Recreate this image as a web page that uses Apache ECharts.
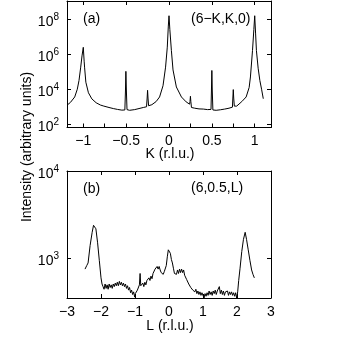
<!DOCTYPE html>
<html>
<head>
<meta charset="utf-8">
<script src="https://cdn.jsdelivr.net/npm/echarts@6/dist/echarts.min.js"></script>
<style>
  html, body { margin: 0; padding: 0; background: #fff; }
  #chart { width: 339px; height: 341px; }
</style>
</head>
<body>
<div id="chart"></div>
<script>
  // panel (a): scan along (6-K,K,0), intensity given as log10
  var kVals = [-1.19, -1.15, -1.1, -1.07, -1.05, -1.03, -1.015, -1.0, -0.99, -0.985, -0.97, -0.94, -0.9, -0.85, -0.8,
    -0.76, -0.752, -0.745, -0.7, -0.65, -0.6, -0.55, -0.515, -0.508, -0.503, -0.497, -0.49, -0.46, -0.4, -0.35, -0.3,
    -0.262, -0.255, -0.25, -0.245, -0.238, -0.2, -0.15, -0.11, -0.07, -0.04, -0.02, -0.008, 0, 0.01, 0.028, 0.047,
    0.086, 0.145, 0.2, 0.24, 0.245, 0.25, 0.255, 0.262, 0.3, 0.35, 0.4, 0.45, 0.49, 0.495, 0.5, 0.505, 0.512, 0.55,
    0.6, 0.65, 0.7, 0.74, 0.745, 0.75, 0.755, 0.762, 0.79, 0.85, 0.9, 0.935, 0.95, 0.974, 0.99, 1.0, 1.01, 1.02,
    1.04, 1.06, 1.08, 1.1];
  var kLogI = [3.09, 3.25, 3.56, 4.0, 4.5, 5.26, 5.9, 6.39, 5.6, 5.26, 4.4, 3.8, 3.45, 3.23, 3.1,
    3.04, 3.15, 3.03, 2.96, 2.9, 2.85, 2.81, 2.82, 3.9, 5.02, 3.9, 2.84, 2.8, 2.84, 2.9, 2.96,
    3.0, 3.5, 3.94, 3.5, 3.06, 3.12, 3.3, 3.56, 4.2, 5.26, 6.4, 7.6, 8.19, 7.4, 6.2, 5.1,
    4.13, 3.56, 3.28, 3.15, 3.3, 3.6, 3.3, 2.96, 2.92, 2.88, 2.87, 2.84, 2.85, 3.9, 5.07, 3.9, 2.82, 2.8,
    2.83, 2.87, 2.92, 2.98, 3.5, 3.98, 3.5, 3.04, 3.04, 3.3, 3.56, 4.1, 4.7, 6.2, 7.4, 8.19, 7.2, 6.2,
    5.2, 4.5, 4.0, 3.46];

  // panel (b): scan along (6,0.5,L), intensity given as log10
  var lVals = [-2.47, -2.42, -2.38, -2.32, -2.26, -2.22, -2.19, -2.15, -2.1, -2.05,
    -2.0, -1.97, -1.94, -1.91, -1.88, -1.85, -1.82, -1.79, -1.76, -1.73, -1.7, -1.67, -1.64, -1.61, -1.58,
    -1.55, -1.52, -1.49, -1.46, -1.43, -1.4, -1.37, -1.34, -1.31, -1.28, -1.25, -1.22, -1.19, -1.16, -1.13,
    -1.1, -1.07, -1.04, -1.01, -0.99, -0.96, -0.93, -0.9, -0.87, -0.85, -0.83, -0.8, -0.77, -0.74, -0.71,
    -0.68, -0.65, -0.62, -0.59, -0.56, -0.53, -0.5, -0.47, -0.44, -0.41, -0.38, -0.35, -0.32, -0.29, -0.26,
    -0.23, -0.2, -0.17, -0.14, -0.11, -0.08, -0.05, -0.02, 0.01, 0.04, 0.07, 0.1, 0.13, 0.16, 0.19,
    0.22, 0.25, 0.28, 0.31, 0.34, 0.37, 0.4, 0.43, 0.46, 0.49, 0.52, 0.55, 0.58, 0.61, 0.64,
    0.67, 0.7, 0.73, 0.76, 0.79, 0.82, 0.85, 0.88, 0.91, 0.94, 0.97, 1.0, 1.03, 1.06, 1.09,
    1.12, 1.15, 1.18, 1.21, 1.24, 1.27, 1.3, 1.33, 1.36, 1.39, 1.42, 1.45, 1.48, 1.51, 1.54,
    1.57, 1.6, 1.63, 1.66, 1.69, 1.72, 1.75, 1.78, 1.81, 1.84, 1.87, 1.9, 1.93, 1.96, 1.99,
    2.02, 2.05, 2.09, 2.14, 2.19, 2.24, 2.28, 2.33, 2.38, 2.43, 2.47, 2.51];
  var lLogI = [2.88, 2.92, 2.95, 3.15, 3.3, 3.38, 3.4, 3.34, 3.18, 2.98,
    2.78, 2.71, 2.68, 2.65, 2.71, 2.66, 2.7, 2.65, 2.71, 2.67, 2.7, 2.66, 2.71, 2.68, 2.72,
    2.69, 2.73, 2.69, 2.74, 2.7, 2.73, 2.69, 2.72, 2.68, 2.71, 2.66, 2.69, 2.64, 2.67, 2.61,
    2.64, 2.59, 2.62, 2.56, 2.6, 2.58, 2.64, 2.62, 2.7, 2.83, 2.69, 2.67, 2.72, 2.68, 2.73,
    2.7, 2.75, 2.73, 2.78, 2.75, 2.8, 2.77, 2.83, 2.82, 2.88, 2.86, 2.91, 2.88, 2.91, 2.87,
    2.84, 2.86, 2.82, 2.85, 2.83, 2.92, 3.02, 3.1, 3.12, 3.06, 2.99, 2.95, 2.89, 2.83, 2.85,
    2.82, 2.87, 2.83, 2.88, 2.84, 2.88, 2.84, 2.87, 2.81, 2.81, 2.76, 2.75, 2.71, 2.72, 2.67,
    2.68, 2.64, 2.66, 2.62, 2.65, 2.6, 2.63, 2.59, 2.62, 2.58, 2.61, 2.6, 2.55, 2.6, 2.57,
    2.61, 2.58, 2.63, 2.59, 2.62, 2.58, 2.63, 2.6, 2.64, 2.59, 2.63, 2.61, 2.68, 2.6, 2.64,
    2.59, 2.63, 2.58, 2.62, 2.6, 2.63, 2.58, 2.62, 2.59, 2.62, 2.58, 2.61, 2.57, 2.61, 2.55,
    2.62, 2.75, 2.89, 3.08, 3.22, 3.3, 3.22, 3.1, 2.98, 2.87, 2.82, 2.78];

  // tick positions and labels
  var kTicks = [-1, -0.75, -0.5, -0.25, 0, 0.25, 0.5, 0.75, 1];
  var kLabels = [-1, -0.5, 0, 0.5, 1];
  var lLabels = [-3, -2, -1, 0, 1, 2, 3];
  var aDecades = [2, 4, 6, 8];
  var bDecades = [3, 4];

  var font = '"Liberation Sans", Arial, sans-serif';
  var chart = echarts.init(document.getElementById('chart'));

  function minus(v) {
    return String(v).replace('-', '\u2212');
  }

  function xAx(grid, pos, min, max, ticks, labels, showLabel) {
    return {
      type: 'value', gridIndex: grid, position: pos, min: min, max: max,
      splitLine: {show: false},
      axisLine: {show: true, onZero: false, lineStyle: {color: '#000', width: 1}},
      axisTick: {show: true, inside: true, length: 4, customValues: ticks, lineStyle: {color: '#000'}},
      axisLabel: {show: showLabel, customValues: labels, margin: 7, color: '#000', fontSize: 14,
        fontFamily: font, formatter: minus}
    };
  }

  function yAx(grid, pos, min, max, decades, showLabel) {
    return {
      type: 'value', gridIndex: grid, position: pos, min: min, max: max,
      splitLine: {show: false},
      axisLine: {show: true, onZero: false, lineStyle: {color: '#000', width: 1}},
      axisTick: {show: true, inside: true, length: 4, customValues: decades, lineStyle: {color: '#000'}},
      axisLabel: {
        show: showLabel, customValues: decades, margin: 8, color: '#000', fontFamily: font,
        formatter: function (v) { return '{n|10}{s|' + v + '}'; },
        rich: {
          n: {fontSize: 14, lineHeight: 20, verticalAlign: 'bottom', fontFamily: font, color: '#000'},
          s: {fontSize: 10, verticalAlign: 'top', padding: [3, 0, 0, 0], fontFamily: font, color: '#000'}
        }
      }
    };
  }

  var aData = kVals.map(function (k, i) { return [k, kLogI[i]]; });
  var bData = lVals.map(function (l, i) { return [l, lLogI[i]]; });

  chart.setOption({
    animation: false,
    backgroundColor: '#fff',
    grid: [
      {left: 67, top: 1, width: 204, height: 126.5},
      {left: 67, top: 171, width: 204, height: 127}
    ],
    xAxis: [
      xAx(0, 'bottom', -1.19, 1.19, kTicks, kLabels, true),
      xAx(1, 'bottom', -3, 3, lLabels, lLabels, true),
      xAx(0, 'top', -1.19, 1.19, kLabels, kLabels, false),
      xAx(1, 'top', -3, 3, lLabels, lLabels, false)
    ],
    yAxis: [
      yAx(0, 'left', 1.82, 9.03, aDecades, true),
      yAx(1, 'left', 2.55, 4.0, bDecades, true),
      yAx(0, 'right', 1.82, 9.03, aDecades, false),
      yAx(1, 'right', 2.55, 4.0, bDecades, false)
    ],
    series: [
      {
        name: '(6-K,K,0)', type: 'line', xAxisIndex: 0, yAxisIndex: 0, data: aData,
        showSymbol: false, lineStyle: {color: '#000', width: 1}
      },
      {
        name: '(6,0.5,L)', type: 'line', xAxisIndex: 1, yAxisIndex: 1, data: bData,
        showSymbol: false, lineStyle: {color: '#000', width: 1}
      }
    ],
    graphic: [
      {type: 'text', left: 83, top: 12, style: {text: '(a)', font: '14px ' + font, fill: '#000'}},
      {type: 'text', left: 191, top: 12, style: {text: '(6\u2212K,K,0)', font: '14px ' + font, fill: '#000'}},
      {type: 'text', left: 83, top: 182, style: {text: '(b)', font: '14px ' + font, fill: '#000'}},
      {type: 'text', left: 191, top: 181, style: {text: '(6,0.5,L)', font: '14px ' + font, fill: '#000'}},
      {type: 'text', x: 170, y: 154, style: {text: 'K (r.l.u.)', font: '14px ' + font, fill: '#000',
        align: 'center', verticalAlign: 'middle'}},
      {type: 'text', x: 170, y: 326, style: {text: 'L (r.l.u.)', font: '14px ' + font, fill: '#000',
        align: 'center', verticalAlign: 'middle'}},
      {type: 'text', x: 27.5, y: 147, rotation: Math.PI / 2, style: {text: 'Intensity (arbitrary units)',
        font: '14px ' + font, fill: '#000', align: 'center', verticalAlign: 'middle'}}
    ]
  });
</script>
</body>
</html>
